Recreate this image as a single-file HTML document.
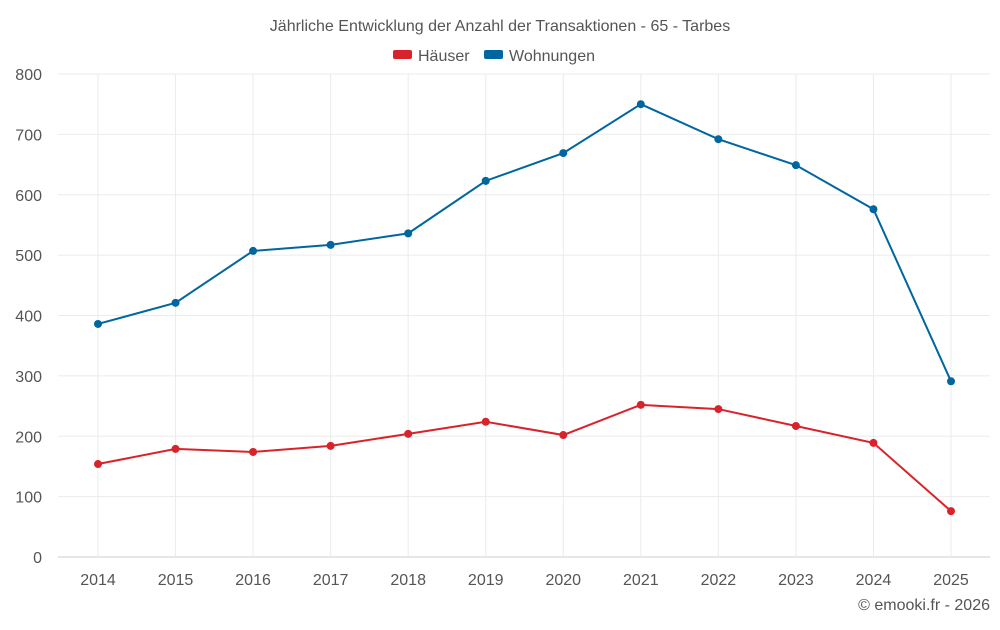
<!DOCTYPE html>
<html><head><meta charset="utf-8"><style>
body{margin:0;background:#fff;font-family:"Liberation Sans",sans-serif;}
</style></head><body>
<svg id="chart" width="1000" height="625" xmlns="http://www.w3.org/2000/svg">
<text x="500" y="31" text-anchor="middle" font-size="16" fill="#555">Jährliche Entwicklung der Anzahl der Transaktionen - 65 - Tarbes</text>
<g>
<rect x="393" y="50" width="19" height="9" rx="2" fill="#d9232a"/>
<text x="418" y="61" font-size="16" fill="#555">Häuser</text>
<rect x="484" y="50" width="19" height="9" rx="2" fill="#0066a0"/>
<text x="509" y="61" font-size="16" fill="#555">Wohnungen</text>
</g>
<g id="grid"></g><g id="axes"></g><g id="series"></g>
<text x="990" y="610" text-anchor="end" font-size="16" fill="#555">© emooki.fr - 2026</text>
</svg>
<script>
const years=[2014,2015,2016,2017,2018,2019,2020,2021,2022,2023,2024,2025];
const haeuser=[154,179,174,184,204,224,202,252,245,217,189,76];
const wohnungen=[386,421,507,517,536,623,669,750,692,649,576,291];
const yTicks=[0,100,200,300,400,500,600,700,800];
const NS="http://www.w3.org/2000/svg";
const L=58,R=990,T=74,B=557;
const x=i=>98+i*(951-98)/(years.length-1);
const y=v=>B-(v/800)*(B-T);
function mk(t,a,p){const e=document.createElementNS(NS,t);for(const k in a)e.setAttribute(k,a[k]);p.appendChild(e);return e;}
const g=document.getElementById('grid'),ax=document.getElementById('axes'),s=document.getElementById('series');
yTicks.forEach(v=>{
 const l=mk('line',{x1:L,x2:R,y1:y(v),y2:y(v),stroke:v===0?'#ccc':'#ebebeb'},g);
 
 
 const t=mk('text',{x:42,y:y(v)+6,'text-anchor':'end','font-size':16,fill:'#555'},ax);t.textContent=v;
 
 
});
years.forEach((yr,i)=>{
 const l=mk('line',{x1:x(i),x2:x(i),y1:T,y2:B,stroke:'#ebebeb'},g);
 
 
 const t=mk('text',{x:x(i),y:585,'text-anchor':'middle','font-size':16,fill:'#555'},ax);t.textContent=yr;
 
 
});
[[wohnungen,'#0066a0','wohnungen'],[haeuser,'#d9232a','haeuser']].forEach(([d,c,n])=>{
 const p=mk('polyline',{points:d.map((v,i)=>x(i)+','+y(v)).join(' '),fill:'none',stroke:c,'stroke-width':2},s);
 
 
 d.forEach((v,i)=>{const ci=mk('circle',{cx:x(i),cy:y(v),r:4,fill:c},s);
 
 });
});
</script>
</body></html>
